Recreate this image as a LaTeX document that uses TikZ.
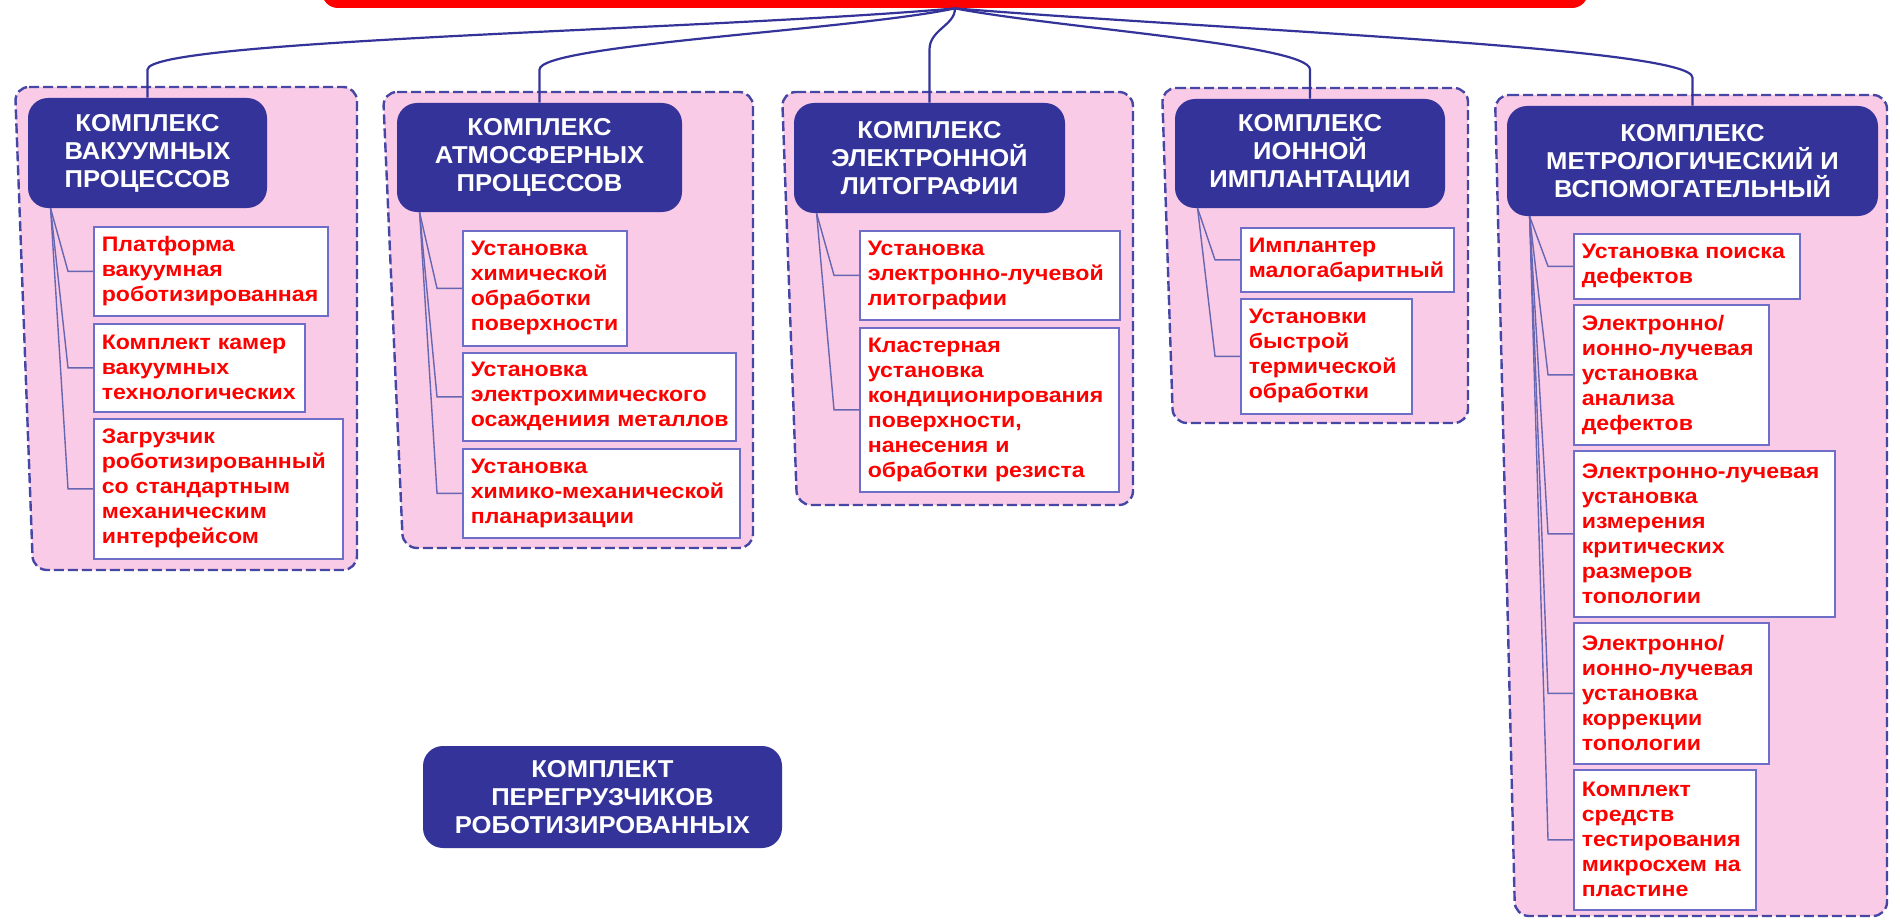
\documentclass[tikz,border=0pt]{standalone}
\usepackage{fontspec}
\setmainfont{Liberation Sans}
\newfontfamily\headfont[FakeStretch=1.05]{Liberation Sans Bold}
\newfontfamily\unitfont[FakeStretch=1.1]{Liberation Sans Bold}
\usetikzlibrary{calc}
\definecolor{headblue}{RGB}{51,51,153}
\definecolor{grouppink}{RGB}{249,203,230}
\definecolor{dashblue}{RGB}{70,70,165}
\definecolor{boxline}{RGB}{110,110,200}
\definecolor{unitred}{RGB}{255,0,0}
\tikzset{
  rootbar/.style={fill=unitred, rounded corners=8pt, minimum width=633pt, minimum height=40pt},
  headbox/.style={fill=headblue, rounded corners=10pt, text=white, align=center, inner sep=0pt,
    font={\headfont\fontsize{12.2}{14}\selectfont}},
  unitbox/.style={draw=boxline, line width=0.8pt, fill=white, anchor=north west, align=left,
    inner xsep=4pt, inner ysep=0pt, text=unitred,
    font={\unitfont\fontsize{10.5}{12.5}\selectfont\hyphenpenalty=10000\exhyphenpenalty=10000}},
  groupbox/.style={draw=dashblue, fill=grouppink, line width=1.2pt, dash pattern=on 5pt off 2pt, rounded corners=7pt},
  trunk/.style={draw=headblue, line width=1.1pt},
  twig/.style={draw=headblue!75!white, line width=0.7pt},
}
\begin{document}
\begin{tikzpicture}[x=0.5pt,y=-0.5pt]
\useasboundingbox (0,0) rectangle (1890,920);
\clip (0,0) rectangle (1890,920);
\foreach \xa/\xc/\xb/\ya/\yb in {15/33/357/87/570, 383/403/753/92/548, 782/797/1133/92/505,
  1162/1173/1468/88/423, 1495/1515/1887/95/916}
  \draw[groupbox] (\xa,\ya) -- (\xb,\ya) -- (\xb,\yb) -- (\xc,\yb) -- cycle;
\node[rootbar] (root) at (955,-32) {};
\foreach \nm/\xa/\ya/\xb/\yb/\txt in {
  h1/28/98/267/208/{КОМПЛЕКС\\ВАКУУМНЫХ\\ПРОЦЕССОВ},
  h2/397/103/682/212/{КОМПЛЕКС\\АТМОСФЕРНЫХ\\ПРОЦЕССОВ},
  h3/794/103/1065/213/{КОМПЛЕКС\\ЭЛЕКТРОННОЙ\\ЛИТОГРАФИИ},
  h4/1175/99/1445/208/{КОМПЛЕКС\\ИОННОЙ\\ИМПЛАНТАЦИИ},
  h5/1507/106/1878/216/{КОМПЛЕКС\\МЕТРОЛОГИЧЕСКИЙ И\\ВСПОМОГАТЕЛЬНЫЙ},
  hb/423/746/782/848/{КОМПЛЕКТ\\ПЕРЕГРУЗЧИКОВ\\РОБОТИЗИРОВАННЫХ}}{
  \pgfmathsetmacro\bw{(\xb-\xa)*0.5}
  \pgfmathsetmacro\bh{(\yb-\ya)*0.5}
  \node[headbox, minimum width=\bw pt, minimum height=\bh pt] (\nm) at ({(\xa+\xb)/2},{(\ya+\yb)/2}) {\txt};
}
\foreach \h/\dx/\dy/\ey/\up in {h1/-255/22/-30/-28, h2/-105/22/-25/-33, h3/0/17/-20/-53,
  h4/105/20/-25/-29, h5/275/22/-30/-28}
  \draw[trunk] (root.south) .. controls +(\dx,\dy) and +(0,\ey) .. ($(\h.north)+(0,\up)$) -- (\h.north);
\foreach \nm/\xa/\ya/\xb/\yb/\txt in {
  i11/93/226/327/315/{Платформа\\вакуумная\\роботизированная},
  i12/93/323/304/411/{Комплект~камер\\вакуумных\\технологических},
  i13/93/418/342/558/{Загрузчик\\роботизированный\\со~стандартным\\механическим\\интерфейсом},
  i21/462/230/626/345/{Установка\\химической\\обработки\\поверхности},
  i22/462/352/735/440/{Установка\\электрохимического\\осаждениия~металлов},
  i23/462/448/739/537/{Установка\\химико-механической\\планаризации},
  i31/859/230/1119/319/{Установка\\электронно-лучевой\\литографии},
  i32/859/327/1118/491/{Кластерная\\установка\\кондиционирования\\поверхности,\\нанесения~и\\обработки~резиста},
  i41/1240/227/1453/291/{Имплантер\\малогабаритный},
  i42/1240/298/1411/413/{Установки\\быстрой\\термической\\обработки},
  i51/1573/233/1799/298/{Установка~поиска\\дефектов},
  i52/1573/304/1768/444/{Электронно/\\ионно-лучевая\\установка\\анализа\\дефектов},
  i53/1573/450/1834/616/{Электронно-лучевая\\установка\\измерения\\критических\\размеров\\топологии},
  i54/1573/622/1768/763/{Электронно/\\ионно-лучевая\\установка\\коррекции\\топологии},
  i55/1573/769/1755/909/{Комплект\\средств\\тестирования\\микросхем~на\\пластине}}{
  \pgfmathsetmacro\tw{(\xb-\xa)*0.5-8}
  \pgfmathsetmacro\bh{(\yb-\ya)*0.5}
  \node[unitbox, text width=\tw pt, minimum height=\bh pt] (\nm) at (\xa,\ya) {\txt};
}
\foreach \h/\u in {h1/i11, h1/i12, h1/i13, h2/i21, h2/i22, h2/i23, h3/i31, h3/i32, h4/i41, h4/i42,
  h5/i51, h5/i52, h5/i53, h5/i54, h5/i55}
  \draw[twig] ($(\h.south west)+(23,0)$) -- ($(\u.west)+(-25,0)$) -- (\u.west);
\end{tikzpicture}
\end{document}
